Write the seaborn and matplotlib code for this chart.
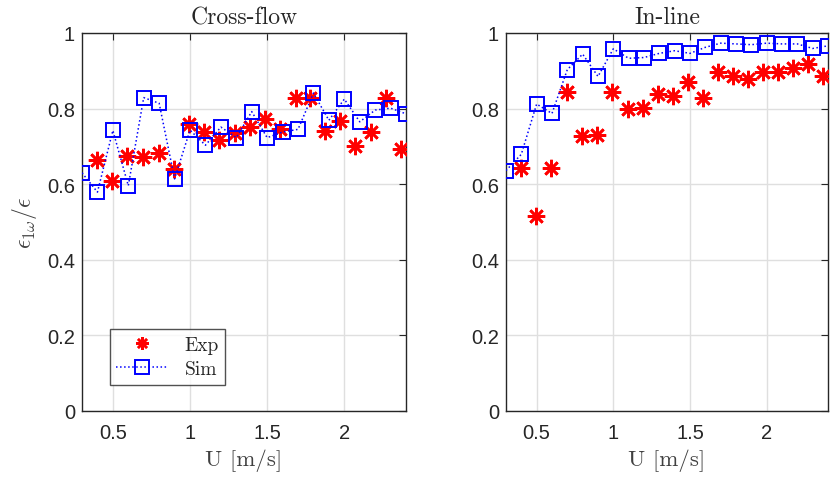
import numpy as np
import pandas as pd
import matplotlib
matplotlib.use("Agg")
import matplotlib.pyplot as plt
from matplotlib.lines import Line2D
import seaborn as sns

# data
u_sim = [0.3, 0.4, 0.5, 0.6, 0.7, 0.8, 0.9, 1.0, 1.1, 1.2, 1.3, 1.4, 1.5,
         1.6, 1.7, 1.8, 1.9, 2.0, 2.1, 2.2, 2.3, 2.4]
u_exp = [0.398, 0.496, 0.593, 0.696, 0.796, 0.893, 0.991, 1.093, 1.191, 1.293,
         1.391, 1.489, 1.583, 1.685, 1.778, 1.876, 1.974, 2.072, 2.174, 2.272, 2.37]

cf_sim = [0.630, 0.579, 0.742, 0.596, 0.829, 0.814, 0.614, 0.743, 0.703, 0.751,
          0.723, 0.792, 0.723, 0.738, 0.745, 0.841, 0.769, 0.825, 0.765, 0.796,
          0.801, 0.786]
cf_exp = [0.665, 0.608, 0.674, 0.673, 0.683, 0.639, 0.760, 0.738, 0.717, 0.735,
          0.752, 0.773, 0.745, 0.827, 0.827, 0.741, 0.767, 0.701, 0.738, 0.827,
          0.692]

il_sim = [0.636, 0.679, 0.812, 0.787, 0.903, 0.944, 0.885, 0.958, 0.933, 0.935,
          0.946, 0.953, 0.946, 0.962, 0.973, 0.971, 0.969, 0.973, 0.971, 0.971,
          0.959, 0.966]
il_exp = [0.643, 0.515, 0.643, 0.844, 0.727, 0.731, 0.844, 0.798, 0.801, 0.838,
          0.832, 0.871, 0.827, 0.897, 0.885, 0.878, 0.896, 0.897, 0.907, 0.919,
          0.887]

titles = ["Cross-flow", "In-line"]

sns.set_style("white")
plt.rcParams['font.family'] = ['Liberation Sans', 'DejaVu Sans']
plt.rcParams['mathtext.fontset'] = 'cm'

star = (8, 2, 0)
serif = 'cmr10'
tick_col = '#262626'

fig = plt.figure(figsize=(8.3, 4.81), dpi=100)
ax1 = fig.add_axes([0.0988, 0.1435, 0.3904, 0.7859])
ax2 = fig.add_axes([0.6096, 0.1435, 0.3880, 0.7859])

panels = [(ax1, cf_sim, cf_exp), (ax2, il_sim, il_exp)]
for i, (ax, sim, exp) in enumerate(panels):
    df_s = pd.DataFrame({"U": u_sim, "eps": sim})
    df_e = pd.DataFrame({"U": u_exp, "eps": exp})
    sns.lineplot(data=df_e, x="U", y="eps", ax=ax, linestyle='none',
                 marker=star, markersize=12.5, markeredgewidth=1.9,
                 color='red', markeredgecolor='red', zorder=3)
    sns.lineplot(data=df_s, x="U", y="eps", ax=ax, linestyle=':', linewidth=1.1,
                 marker='s', markersize=10.5, markeredgewidth=1.4,
                 markerfacecolor='none', color='blue', markeredgecolor='blue',
                 zorder=4)
    ax.set_xlim(0.3, 2.4)
    ax.set_ylim(0, 1)
    ax.set_xticks([0.5, 1, 1.5, 2])
    ax.set_xticklabels(["0.5", "1", "1.5", "2"])
    ax.set_yticks([0, 0.2, 0.4, 0.6, 0.8, 1])
    ax.set_yticklabels(["0", "0.2", "0.4", "0.6", "0.8", "1"])
    ax.grid(True, color='#dfdfdf', linewidth=1.0)
    ax.set_axisbelow(True)
    ax.tick_params(direction='in', length=5, width=0.8, top=True, right=True,
                   labelsize=14.5, colors=tick_col)
    ax.tick_params(axis='x', pad=9)
    ax.tick_params(axis='y', pad=5)
    for sp in ax.spines.values():
        sp.set_color(tick_col)
        sp.set_linewidth(1.0)
    ax.set_title(titles[i], fontfamily=serif, fontsize=17, pad=7)
    ax.set_xlabel("U [m/s]", fontfamily=serif, fontsize=16.5, color='#404040',
                  labelpad=4)
    ax.set_ylabel("")

ax1.set_ylabel(r'$\epsilon_{1\omega}/\epsilon$', fontsize=17, color='#404040',
               labelpad=6)

handles = [
    Line2D([], [], linestyle='none', marker=star, markersize=9,
           markeredgewidth=1.8, color='red'),
    Line2D([], [], linestyle=':', linewidth=1.1, marker='s', markersize=9.5,
           markeredgewidth=1.4, markerfacecolor='none', color='blue'),
]
leg = ax1.legend(handles, ["Exp", "Sim"], loc='lower left',
                 bbox_to_anchor=(0.085, 0.07), frameon=True, fancybox=False,
                 edgecolor='#262626', handlelength=2.6, borderpad=0.35,
                 labelspacing=0.3, handletextpad=0.9, borderaxespad=0,
                 prop={'family': serif, 'size': 14})
leg.get_frame().set_linewidth(1.0)

fig.savefig("out.png", dpi=100)
